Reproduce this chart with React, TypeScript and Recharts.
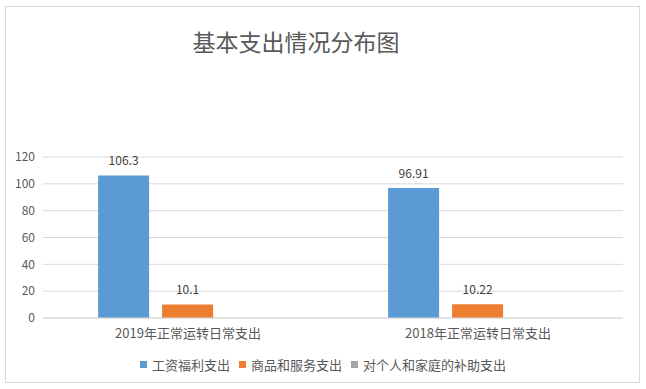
import { BarChart, Bar, XAxis, YAxis, CartesianGrid, Legend, LabelList } from "recharts"

// categories and series
const categories = ["2019年正常运转日常支出", "2018年正常运转日常支出"]
const wages = [106.3, 96.91]
const goods = [10.1, 10.22]
const subsidies = [0, 0]
const yTicks = [0, 20, 40, 60, 80, 100, 120]
const seriesNames = ["工资福利支出", "商品和服务支出", "对个人和家庭的补助支出"]
const seriesColors = ["#5b9bd5", "#ed7d31", "#a5a5a5"]

const data = categories.map((name, i) => ({
    name,
    wages: wages[i],
    goods: goods[i],
    subsidies: subsidies[i],
}))

const font = "'Noto Sans CJK SC', 'Noto Sans', sans-serif"

// legend kept in series order (recharts sorts it by name otherwise)
function ChartLegend() {
    return (
        <div style={{ display: "flex", justifyContent: "center", alignItems: "center", height: 20 }}>
            {seriesNames.map((n, i) => (
                <div key={n} style={{ display: "flex", alignItems: "center", marginRight: i < 2 ? 9 : 0 }}>
                    <span style={{ width: 7, height: 7, background: seriesColors[i], marginRight: 5, display: "inline-block" }} />
                    <span style={{ fontSize: 13, color: "#595959" }}>{n}</span>
                </div>
            ))}
        </div>
    )
}

export default function App() {
    return (
        <div style={{ position: "absolute", left: 0, top: 0, width: 646, height: 389, background: "#fff", fontFamily: font }}>
            <div
                style={{
                    position: "absolute",
                    left: 5,
                    top: 6,
                    width: 633,
                    height: 375,
                    border: "1px solid #d9d9d9",
                }}
            />
            <div
                style={{
                    position: "absolute",
                    left: 146,
                    top: 25,
                    width: 300,
                    textAlign: "center",
                    fontSize: 23,
                    lineHeight: "32px",
                    color: "#595959",
                }}
            >
                基本支出情况分布图
            </div>
            <div style={{ position: "absolute", left: 0, top: 0 }}>
                <BarChart
                    width={646}
                    height={389}
                    data={data}
                    margin={{ top: 157, right: 23, left: 0, bottom: 21 }}
                    barCategoryGap="19%"
                    barGap={13}
                >
                    <CartesianGrid stroke="#d9d9d9" vertical={false} />
                    <XAxis
                        dataKey="name"
                        height={30}
                        tickLine={false}
                        axisLine={{ stroke: "#d9d9d9" }}
                        tickMargin={5}
                        tick={{ fontSize: 13, fill: "#595959", fontFamily: font }}
                    />
                    <YAxis
                        width={43}
                        domain={[0, 120]}
                        ticks={yTicks}
                        tickLine={false}
                        axisLine={false}
                        tick={{ fontSize: 12, fill: "#595959", fontFamily: font }}
                    />
                    <Legend
                        verticalAlign="bottom"
                        wrapperStyle={{ height: 20, bottom: 15, left: 0, width: 646, fontFamily: font }}
                        content={() => <ChartLegend />}
                    />
                    <Bar dataKey="wages" name={seriesNames[0]} fill={seriesColors[0]} isAnimationActive={false}>
                        <LabelList dataKey="wages" position="top" offset={10} fill="#404040" fontSize={12} fontFamily={font} />
                    </Bar>
                    <Bar dataKey="goods" name={seriesNames[1]} fill={seriesColors[1]} isAnimationActive={false}>
                        <LabelList dataKey="goods" position="top" offset={10} fill="#404040" fontSize={12} fontFamily={font} />
                    </Bar>
                    <Bar dataKey="subsidies" name={seriesNames[2]} fill={seriesColors[2]} isAnimationActive={false} />
                </BarChart>
            </div>
        </div>
    )
}
